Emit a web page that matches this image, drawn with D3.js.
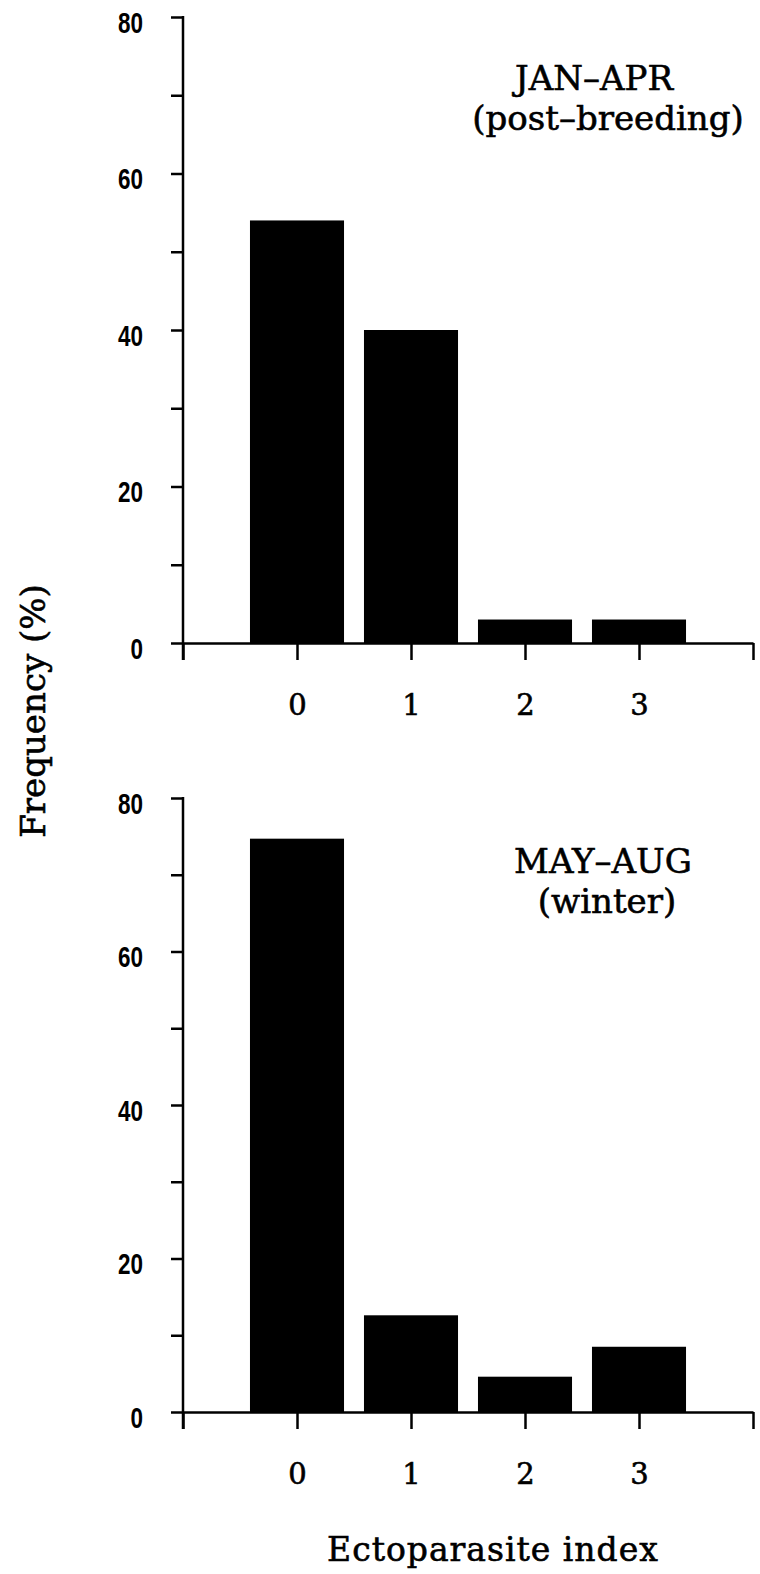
<!DOCTYPE html>
<html>
<head>
<meta charset="utf-8">
<script src="https://cdn.jsdelivr.net/npm/d3@7"></script>
<style>
  html, body { margin: 0; padding: 0; background: #fff; }
  svg { display: block; }
</style>
</head>
<body>
<svg id="chart" width="760" height="1574"></svg>
<script>
// Ectoparasite index categories and frequency (%) for each season
const categories = [0, 1, 2, 3];
const janAprValues = [54, 40, 3, 3];
const mayAugValues = [74.7, 12.6, 4.6, 8.5];
const yTickValues = [0, 10, 20, 30, 40, 50, 60, 70, 80];
const yTickLabels = ["0", "", "20", "", "40", "", "60", "", "80"];
const panelTitles = [["JAN\u2013APR", "(post\u2013breeding)"], ["MAY\u2013AUG", "(winter)"]];
const yAxisTitle = "Frequency (%)";
const xAxisTitle = "Ectoparasite index";

const svg = d3.select("#chart");
const ink = "#000";
const serif = "'DejaVu Serif', 'Liberation Serif', serif";
const sans = "'Liberation Sans', Arial, sans-serif";

// shared horizontal scale: the axis runs one step beyond each end category
const x = d3.scaleLinear().domain([-1, 4]).range([183, 753]);
const barWidth = 0.825 * (x(1) - x(0));

const panels = [
  { values: janAprValues, top: 17, bottom: 643, title: panelTitles[0], titleX: [594, 608], titleY: [90, 130] },
  { values: mayAugValues, top: 798, bottom: 1412, title: panelTitles[1], titleX: [603, 607], titleY: [873, 913] }
];

// slightly heavier serif lettering
function serifText(sel, size) {
  sel.attr("font-family", serif)
    .attr("font-size", size)
    .attr("fill", ink)
    .attr("stroke", ink)
    .attr("stroke-width", 0.6);
}

panels.forEach(p => {
  const y = d3.scaleLinear().domain([0, 80]).range([p.bottom, p.top]);
  const g = svg.append("g");

  // bars
  g.selectAll("rect.bar")
    .data(categories)
    .join("rect")
    .attr("class", "bar")
    .attr("x", d => x(d) - barWidth / 2)
    .attr("width", barWidth)
    .attr("y", (d, i) => y(p.values[i]))
    .attr("height", (d, i) => y(0) - y(p.values[i]))
    .attr("fill", ink);

  // y axis with ticks every 10, labels every 20 (narrow digits)
  const yAxis = d3.axisLeft(y)
    .tickValues(yTickValues)
    .tickFormat((d, i) => yTickLabels[i])
    .tickSize(12)
    .tickSizeOuter(0)
    .tickPadding(28);
  const ya = g.append("g").attr("transform", `translate(${x(-1)},0)`).call(yAxis);
  ya.select(".domain").remove();
  ya.selectAll("line").attr("stroke", ink).attr("stroke-width", 2.5);
  ya.selectAll("text")
    .attr("fill", ink)
    .attr("font-family", sans)
    .attr("font-weight", "bold")
    .attr("font-size", 29)
    .attr("dy", "0.52em")
    .each(function () {
      const n = this.textContent.length;
      if (n) d3.select(this).attr("textLength", 12.5 * n).attr("lengthAdjust", "spacingAndGlyphs");
    });

  // vertical axis line, running slightly below the zero line
  g.append("line")
    .attr("x1", x(-1)).attr("x2", x(-1))
    .attr("y1", y(80) - 1).attr("y2", y(0) + 17)
    .attr("stroke", ink).attr("stroke-width", 2.5);

  // x axis along zero with ticks at each category and at both ends
  const xAxis = d3.axisBottom(x)
    .tickValues([-1, 0, 1, 2, 3, 4])
    .tickFormat(d => categories.includes(d) ? String(d) : "")
    .tickSize(17)
    .tickSizeOuter(0)
    .tickPadding(34);
  const xa = g.append("g").attr("transform", `translate(0,${y(0)})`).call(xAxis);
  xa.select(".domain").attr("stroke", ink).attr("stroke-width", 2.5);
  xa.selectAll("line").attr("stroke", ink).attr("stroke-width", 2.5);
  serifText(xa.selectAll("text"), 29);

  // panel caption
  p.title.forEach((t, i) => {
    serifText(g.append("text")
      .attr("x", p.titleX[i])
      .attr("y", p.titleY[i])
      .attr("text-anchor", "middle")
      .text(t), 34);
  });
});

// shared axis titles
serifText(svg.append("text")
  .attr("transform", "translate(45,711) rotate(-90)")
  .attr("text-anchor", "middle")
  .text(yAxisTitle), 34);

serifText(svg.append("text")
  .attr("x", 493)
  .attr("y", 1561)
  .attr("text-anchor", "middle")
  .attr("letter-spacing", 1)
  .text(xAxisTitle), 33);
</script>
</body>
</html>
